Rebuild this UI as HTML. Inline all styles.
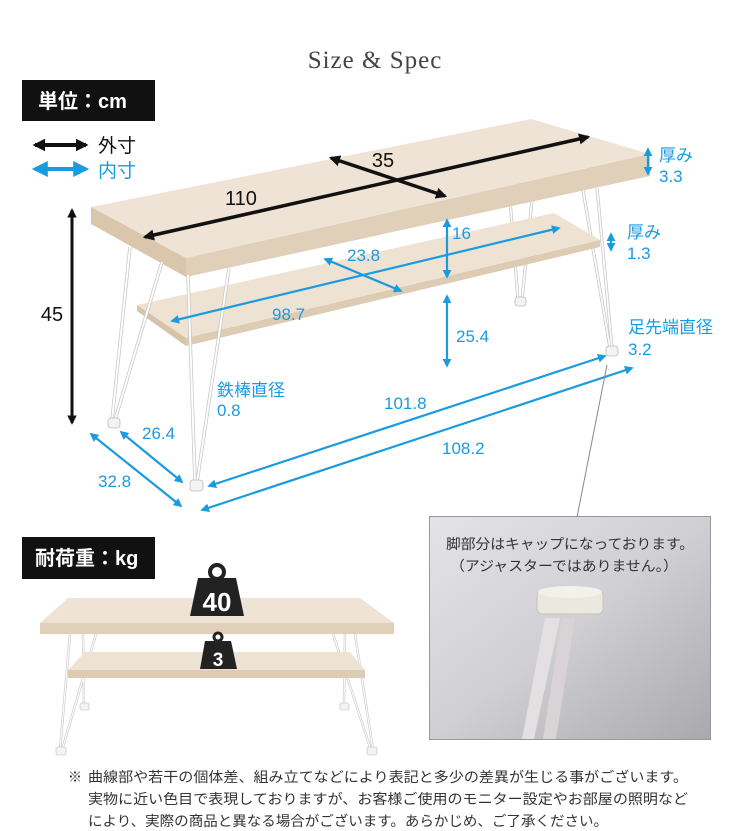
<!DOCTYPE html>
<html><head><meta charset="utf-8"><style>
html,body{margin:0;padding:0;background:#fff;}
svg{display:block;font-family:"Liberation Sans","Noto Sans CJK JP",sans-serif;}
</style></head><body>
<svg width="750" height="831" viewBox="0 0 750 831" xmlns="http://www.w3.org/2000/svg">
<defs>
<marker id="ab" viewBox="0 0 10 10" refX="8" refY="5" markerWidth="3.2" markerHeight="3.2" orient="auto-start-reverse"><path d="M0,0 L10,5 L0,10 z" fill="#111"/></marker>
<marker id="au" viewBox="0 0 10 10" refX="8" refY="5" markerWidth="4" markerHeight="4" orient="auto-start-reverse"><path d="M0,0 L10,5 L0,10 z" fill="#1a9be0"/></marker>
<linearGradient id="ph" x1="0" y1="0" x2="1" y2="1"><stop offset="0" stop-color="#e3e3e8"/><stop offset="0.5" stop-color="#cfcfd4"/><stop offset="1" stop-color="#a9a9ae"/></linearGradient>
</defs>
<text x="375" y="68" text-anchor="middle" font-family="Liberation Serif,serif" font-size="25" fill="#444" letter-spacing="1">Size &amp; Spec</text>
<rect x="22" y="80" width="133" height="41" fill="#111"/>
<text x="38" y="108" font-size="20" font-weight="bold" fill="#fff">単位：cm</text>
<line x1="35" y1="145" x2="86" y2="145" stroke="#111" stroke-width="4" marker-start="url(#ab)" marker-end="url(#ab)"/>
<text x="98" y="152" font-size="19" fill="#111">外寸</text>
<line x1="35" y1="169" x2="86" y2="169" stroke="#1a9be0" stroke-width="4" marker-start="url(#au)" marker-end="url(#au)"/>
<text x="98" y="177" font-size="19" fill="#1a9be0">内寸</text>

<!-- back legs -->
<g stroke="#c4c4c4" stroke-width="3.2" fill="none">
<line x1="510" y1="200" x2="518" y2="300"/><line x1="532" y1="200" x2="522" y2="300"/>
<line x1="583" y1="190" x2="610" y2="348"/><line x1="597" y1="188" x2="612" y2="348"/>
</g>
<g stroke="#fafafa" stroke-width="1.8" fill="none">
<line x1="510" y1="200" x2="518" y2="300"/><line x1="532" y1="200" x2="522" y2="300"/>
<line x1="583" y1="190" x2="610" y2="348"/><line x1="597" y1="188" x2="612" y2="348"/>
</g>
<!-- shelf -->
<polygon points="137,305 554,213 600,240 186,338" fill="#eee2d3"/>
<polygon points="186,338 600,240 600,247 186,346" fill="#ddcbb4"/>
<polygon points="137,305 186,338 186,346 137,311" fill="#d6c3aa"/>
<!-- top board -->
<polygon points="91,207 531,119 650,154 186,258" fill="#eee3d5"/>
<polygon points="186,258 650,154 650,176 186,277" fill="#e0cfb9"/>
<polygon points="91,207 186,258 186,277 91,224" fill="#d9c6ad"/>
<!-- front legs -->
<g stroke="#c4c4c4" stroke-width="3.4" fill="none">
<line x1="130" y1="247" x2="112" y2="420"/><line x1="162" y1="262" x2="115" y2="420"/>
<line x1="188" y1="275" x2="195" y2="482"/><line x1="229" y1="268" x2="197" y2="482"/>
</g>
<g stroke="#fdfdfd" stroke-width="2" fill="none">
<line x1="130" y1="247" x2="112" y2="420"/><line x1="162" y1="262" x2="115" y2="420"/>
<line x1="188" y1="275" x2="195" y2="482"/><line x1="229" y1="268" x2="197" y2="482"/>
</g>
<g fill="#f3f3f3" stroke="#bbb" stroke-width="0.8">
<rect x="108" y="418" width="12" height="10" rx="3"/>
<rect x="190" y="480" width="13" height="11" rx="3"/>
<rect x="515" y="297" width="11" height="9" rx="3"/>
<rect x="606" y="346" width="12" height="10" rx="3"/>
</g>

<!-- black dims -->
<line x1="145" y1="237" x2="588" y2="137" stroke="#111" stroke-width="3.5" marker-start="url(#ab)" marker-end="url(#ab)"/>
<line x1="331" y1="158" x2="445" y2="196" stroke="#111" stroke-width="3.5" marker-start="url(#ab)" marker-end="url(#ab)"/>
<text x="241" y="205" font-size="20" text-anchor="middle" fill="#111">110</text>
<text x="383" y="167" font-size="20" text-anchor="middle" fill="#111">35</text>
<line x1="72" y1="210" x2="72" y2="423" stroke="#111" stroke-width="3" marker-start="url(#ab)" marker-end="url(#ab)"/>
<text x="52" y="321" font-size="20" text-anchor="middle" fill="#111">45</text>

<!-- blue dims -->
<g stroke="#1a9be0" stroke-width="2.2" fill="none">
<line x1="648" y1="149" x2="648" y2="174" marker-start="url(#au)" marker-end="url(#au)"/>
<line x1="611" y1="234" x2="611" y2="250" marker-start="url(#au)" marker-end="url(#au)"/>
<line x1="447" y1="220" x2="447" y2="277" marker-start="url(#au)" marker-end="url(#au)"/>
<line x1="325" y1="259" x2="401" y2="291" marker-start="url(#au)" marker-end="url(#au)"/>
<line x1="172" y1="321" x2="559" y2="228" marker-start="url(#au)" marker-end="url(#au)"/>
<line x1="447" y1="296" x2="447" y2="366" marker-start="url(#au)" marker-end="url(#au)"/>
<line x1="209" y1="486" x2="605" y2="356" marker-start="url(#au)" marker-end="url(#au)"/>
<line x1="202" y1="510" x2="632" y2="368" marker-start="url(#au)" marker-end="url(#au)"/>
<line x1="121" y1="432" x2="182" y2="482" marker-start="url(#au)" marker-end="url(#au)"/>
<line x1="91" y1="434" x2="181" y2="506" marker-start="url(#au)" marker-end="url(#au)"/>
</g>
<g font-size="17" fill="#1a9be0">
<text x="659" y="161">厚み</text><text x="659" y="182">3.3</text>
<text x="627" y="238">厚み</text><text x="627" y="259">1.3</text>
<text x="452" y="239">16</text>
<text x="347" y="261">23.8</text>
<text x="272" y="320">98.7</text>
<text x="456" y="342">25.4</text>
<text x="217" y="396">鉄棒直径</text><text x="217" y="416">0.8</text>
<text x="384" y="409">101.8</text>
<text x="442" y="454">108.2</text>
<text x="142" y="439">26.4</text>
<text x="98" y="487">32.8</text>
<text x="628" y="333">足先端直径</text><text x="628" y="355">3.2</text>
</g>
<line x1="607" y1="365" x2="577" y2="517" stroke="#888" stroke-width="1"/>

<!-- photo -->
<rect x="429.5" y="516.5" width="281" height="223" fill="url(#ph)" stroke="#999" stroke-width="1"/>
<text x="446" y="549" font-size="14" fill="#333" textLength="248" lengthAdjust="spacingAndGlyphs">脚部分はキャップになっております。</text>
<text x="450" y="571" font-size="14" fill="#333" textLength="228" lengthAdjust="spacingAndGlyphs">（アジャスターではありません。）</text>
<polygon points="545,618 560,618 534,739 522,739" fill="#e4dfe0"/>
<polygon points="562,618 575,618 556,739 543,739" fill="#d9d3d5"/>
<rect x="537" y="590" width="66" height="24" rx="5" fill="#ebe8e0" stroke="#c8c3bd"/>
<ellipse cx="570" cy="592" rx="32" ry="6" fill="#f4f1ea"/>

<!-- load -->
<rect x="22" y="537" width="133" height="42" fill="#111"/>
<text x="35" y="565" font-size="20" font-weight="bold" fill="#fff">耐荷重：kg</text>
<g stroke="#c8c8c8" stroke-width="2.4">
<line x1="70" y1="634" x2="60" y2="750"/><line x1="96" y1="634" x2="62" y2="750"/>
<line x1="333" y1="634" x2="371" y2="750"/><line x1="355" y1="634" x2="373" y2="750"/>
<line x1="83" y1="634" x2="84" y2="705"/><line x1="345" y1="634" x2="344" y2="705"/>
</g>
<g stroke="#fcfcfc" stroke-width="1.2">
<line x1="70" y1="634" x2="60" y2="750"/><line x1="96" y1="634" x2="62" y2="750"/>
<line x1="333" y1="634" x2="371" y2="750"/><line x1="355" y1="634" x2="373" y2="750"/>
<line x1="83" y1="634" x2="84" y2="705"/><line x1="345" y1="634" x2="344" y2="705"/>
</g>
<polygon points="85,652 350,652 365,670 68,670" fill="#eee2d3"/>
<polygon points="68,670 365,670 365,678 68,678" fill="#ddcbb4"/>
<polygon points="68,598 360,598 394,623 40,623" fill="#eee3d5"/>
<rect x="40" y="623" width="354" height="11" fill="#e0cfb9"/>
<g fill="#f3f3f3" stroke="#bbb" stroke-width="0.6"><rect x="56" y="747" width="10" height="8" rx="2"/><rect x="367" y="747" width="10" height="8" rx="2"/><rect x="80" y="703" width="9" height="7" rx="2"/><rect x="340" y="703" width="9" height="7" rx="2"/></g>
<circle cx="217" cy="572" r="7" fill="none" stroke="#222" stroke-width="4"/>
<polygon points="198,578 236,578 244,616 190,616" fill="#222"/>
<text x="217" y="611" font-size="26" font-weight="bold" text-anchor="middle" fill="#fff">40</text>
<circle cx="218" cy="637" r="4" fill="none" stroke="#222" stroke-width="3"/>
<polygon points="205,641 231,641 237,669 200,669" fill="#222"/>
<text x="218" y="666" font-size="19" font-weight="bold" text-anchor="middle" fill="#fff">3</text>

<g font-size="14" fill="#333">
<text x="68" y="782">※</text>
<text x="88" y="782" textLength="600" lengthAdjust="spacingAndGlyphs">曲線部や若干の個体差、組み立てなどにより表記と多少の差異が生じる事がございます。</text>
<text x="88" y="804" textLength="600" lengthAdjust="spacingAndGlyphs">実物に近い色目で表現しておりますが、お客様ご使用のモニター設定やお部屋の照明など</text>
<text x="88" y="826" textLength="520" lengthAdjust="spacingAndGlyphs">により、実際の商品と異なる場合がございます。あらかじめ、ご了承ください。</text>
</g>
</svg>
</body></html>
